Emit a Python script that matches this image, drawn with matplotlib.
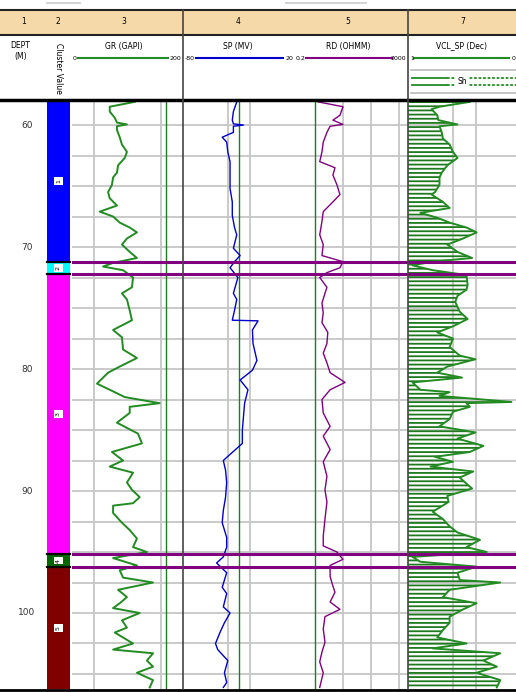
import matplotlib
matplotlib.use("Agg")
import matplotlib.pyplot as plt
import numpy as np
from matplotlib.patches import Rectangle

W, H = 516, 692
TOP, BASE = 58.03, 106.23

# readings off the log (depth in m)
gr_depth = [58.1, 58.5, 58.9, 59.4, 59.8, 59.95, 60.1, 60.4, 61.0, 61.6,
            62.2, 62.7, 63.3, 63.9, 64.3, 64.9, 65.5, 66.0, 66.6, 67.1,
            67.5, 68.0, 68.4, 68.8, 69.3, 69.8, 70.4, 70.9, 71.3, 71.6,
            71.9, 72.5, 73.3, 73.8, 74.3, 75.2, 76.0, 76.8, 77.4, 78.4,
            79.1, 79.8, 80.3, 81.2, 81.7, 82.3, 82.8, 83.1, 83.6, 84.4,
            85.3, 86.1, 86.8, 87.5, 88.0, 88.5, 89.3, 89.9, 90.5, 91.0,
            91.2, 91.8, 92.6, 93.2, 93.9, 94.6, 95.0, 95.5, 96.1, 96.5,
            97.1, 97.5, 98.1, 98.7, 99.2, 99.6, 100.0, 100.6, 101.2, 101.6,
            102.5, 103.0, 103.3, 103.9, 104.4, 104.9, 105.5, 106.1]
gr = [113, 68, 68, 77, 81, 99, 81, 81, 86, 90,
      99, 95, 83, 81, 74, 72, 65, 68, 81, 50,
      74, 86, 104, 117, 99, 90, 104, 117, 74, 56,
      92, 110, 108, 90, 99, 104, 108, 74, 90, 92,
      117, 86, 65, 45, 68, 95, 158, 104, 104, 81,
      119, 126, 72, 92, 68, 110, 99, 108, 122, 110,
      74, 74, 90, 104, 117, 110, 135, 74, 117, 86,
      92, 146, 83, 99, 86, 74, 122, 90, 99, 77,
      110, 74, 146, 135, 146, 117, 146, 140]

sp_depth = [58.1, 58.9, 59.6, 59.9, 60.0, 60.1, 60.6, 61.0, 61.4, 62.2,
            63.0, 64.1, 65.2, 66.3, 67.4, 68.4, 69.0, 70.1, 70.7, 71.2,
            71.7, 72.5, 73.8, 74.3, 75.2, 76.0, 76.05, 76.8, 77.9, 79.3,
            80.1, 80.9, 81.7, 82.8, 83.9, 85.0, 86.1, 87.0, 87.5, 88.3,
            89.3, 90.5, 91.6, 92.6, 93.8, 94.6, 95.4, 95.9, 96.7, 97.9,
            98.4, 99.5, 100.0, 100.8, 101.6, 102.5, 103.0, 103.9, 104.9, 105.7,
            106.1]
sp = [-32, -35, -36, -35, -26, -35, -35, -45, -41, -40,
      -38, -38, -38, -36, -36, -34, -32, -35, -29, -34,
      -38, -31, -35, -32, -34, -36, -13, -18, -17.5, -14,
      -18, -29, -22, -25, -26, -27, -27, -38, -44, -42,
      -41, -42, -44, -45, -41, -41, -44, -50, -41, -45,
      -41, -44, -38, -43, -47, -51, -49, -40, -43, -41,
      -44]

rd_depth = [58.1, 58.5, 59.2, 59.6, 59.95, 60.1, 60.6, 61.4, 62.2, 63.0,
            63.5, 64.1, 64.9, 65.7, 66.3, 67.1, 67.9, 69.0, 69.8, 70.7,
            71.2, 71.7, 72.1, 72.5, 73.3, 73.8, 74.6, 75.4, 76.2, 77.0,
            77.9, 78.7, 79.5, 80.3, 81.1, 81.7, 82.5, 83.6, 84.7, 85.5,
            86.6, 87.6, 88.8, 89.9, 90.9, 92.3, 93.7, 94.5, 95.0, 95.6,
            96.1, 97.0, 97.8, 98.3, 99.1, 99.7, 100.3, 101.3, 102.4, 103.2,
            104.0, 104.9, 106.1]
rd = [1.3, 10.0, 7.8, 4.4, 10.0, 3.5, 2.7, 2.0, 1.8, 1.5,
      5.2, 4.4, 6.1, 7.8, 4.4, 2.0, 1.8, 1.5, 2.0, 1.8,
      10.0, 7.8, 2.7, 1.5, 2.7, 2.3, 1.8, 2.0, 1.8, 2.9,
      2.7, 2.0, 2.7, 3.5, 11.8, 3.5, 1.8, 2.0, 3.5, 2.0,
      3.5, 2.0, 2.7, 2.3, 2.7, 2.3, 2.0, 2.0, 6.1, 10.0,
      3.5, 3.5, 4.4, 5.2, 3.5, 7.8, 2.3, 2.0, 2.3, 1.8,
      1.5, 2.0, 1.5]

vcl_depth = [58.1, 58.5, 58.7, 59.2, 59.6, 59.95, 60.1, 60.6, 61.1, 61.6,
             62.2, 62.7, 63.3, 63.9, 64.3, 64.9, 65.5, 65.7, 66.3, 66.8,
             67.2, 67.6, 68.0, 68.4, 68.8, 69.3, 69.8, 70.4, 70.9, 71.2,
             71.5, 71.9, 72.3, 73.1, 73.5, 74.0, 74.5, 75.3, 75.9, 76.5,
             77.0, 77.5, 78.2, 78.9, 79.2, 79.8, 80.3, 80.7, 81.1, 81.7,
             81.9, 82.2, 82.7, 82.8, 83.1, 83.5, 84.1, 84.7, 85.2, 85.7,
             86.3, 86.8, 87.2, 87.6, 88.0, 88.4, 88.9, 89.4, 89.8, 90.4,
             90.9, 91.7, 92.3, 92.9, 93.4, 94.0, 94.6, 95.0, 95.4, 95.8,
             96.2, 96.7, 97.3, 97.5, 98.1, 98.7, 99.2, 99.7, 100.3, 100.8,
             101.4, 102.0, 102.5, 102.9, 103.3, 103.9, 104.4, 104.9, 105.5, 106.1]
vcl = [0.45, 0.72, 0.79, 0.74, 0.73, 0.56, 0.72, 0.70, 0.69, 0.63,
       0.60, 0.56, 0.65, 0.70, 0.72, 0.72, 0.76, 0.79, 0.69, 0.63,
       0.89, 0.74, 0.63, 0.48, 0.39, 0.51, 0.65, 0.56, 0.43, 0.78,
       0.96, 0.78, 0.48, 0.47, 0.48, 0.56, 0.58, 0.54, 0.47, 0.60,
       0.74, 0.60, 0.63, 0.54, 0.40, 0.65, 0.74, 0.52, 0.96, 0.89,
       0.63, 0.72, 0.08, 0.48, 0.45, 0.60, 0.63, 0.72, 0.40, 0.56,
       0.33, 0.45, 0.76, 0.60, 0.80, 0.42, 0.54, 0.48, 0.43, 0.65,
       0.64, 0.78, 0.69, 0.63, 0.56, 0.36, 0.48, 0.30, 0.96, 0.89,
       0.39, 0.56, 0.54, 0.18, 0.63, 0.69, 0.39, 0.51, 0.63, 0.63,
       0.69, 0.74, 0.48, 0.78, 0.18, 0.33, 0.21, 0.39, 0.18, 0.21]

zone_top = [58.0, 71.2, 72.2, 95.2, 96.2]
zone_base = [71.2, 72.2, 95.2, 96.2, 106.3]
zone_name = ["1", "2", "3", "4", "5"]
zone_color = ["#0000ff", "#00ffff", "#ff00ff", "#006400", "#800000"]

depth_ticks = [60, 70, 80, 90, 100]
track_no = ["1", "2", "3", "4", "5", "7"]

GREEN = "#228b22"
LINE_GREEN = "#1e7d1e"
PURPLE = "#800080"
GRID = "#c6c6c6"

plt.rcParams['font.family'] = ['Liberation Sans Narrow', 'DejaVu Sans']
plt.rcParams['hatch.color'] = "#1f7a1f"
plt.rcParams['hatch.linewidth'] = 1.3

fig = plt.figure(figsize=(W / 100, H / 100), dpi=100)


def track(x0, x1):
    ax = fig.add_axes([x0 / W, 1 - 689 / H, (x1 - x0) / W, 588 / H])
    ax.set_ylim(BASE, TOP)
    for s in ax.spines.values():
        s.set_visible(False)
    ax.tick_params(which='both', left=False, bottom=False,
                   labelleft=False, labelbottom=False)
    return ax


def grid(ax, xt):
    ax.set_xticks(xt)
    ax.set_yticks(np.arange(60, 106, 2.5))
    ax.grid(True, which='major', color=GRID, lw=1.3)
    ax.set_axisbelow(True)


# depth column
ax_d = track(0, 45)
ax_d.set_xlim(0, 1)
for d in depth_ticks:
    ax_d.text(0.6, d, str(d), ha='center', va='center', fontsize=6.5, color='#333333')

# cluster column
ax_z = track(45, 72)
ax_z.set_xlim(0, 1)
for t, b, c, n in zip(zone_top, zone_base, zone_color, zone_name):
    ax_z.axhspan(t, b, xmin=0.074, xmax=0.926, color=c, lw=0)
    ax_z.text(0.5, (t + b) / 2, n, rotation=90, ha='center', va='center',
              fontsize=4.5, bbox=dict(boxstyle='square,pad=0.3', fc='white', ec='none'))
for t in zone_top[1:]:
    ax_z.axhline(t, 0.074, 0.926, color='black', lw=1.6)

# GR
ax_gr = track(72, 183)
ax_gr.set_xlim(0, 200)
grid(ax_gr, [40, 160])
ax_gr.axvline(170, color=LINE_GREEN, lw=1)
ax_gr.plot(gr, gr_depth, color=GREEN, lw=1.4)

# SP
ax_sp = track(183, 295)
ax_sp.set_xlim(-80, 20)
grid(ax_sp, [-40, -20])
ax_sp.axvline(-30, color=LINE_GREEN, lw=1)
ax_sp.plot(sp, sp_depth, color='#0000cc', lw=1.0)

# RD
ax_rd = track(295, 408)
ax_rd.set_xscale('log')
ax_rd.set_xlim(0.2, 2000)
grid(ax_rd, [10, 100, 1000])
ax_rd.axvline(1, color=LINE_GREEN, lw=1)
ax_rd.plot(rd, rd_depth, color=PURPLE, lw=1.0)

# VCL
ax_v = track(408, 520.5)
ax_v.set_xlim(1, 0)
grid(ax_v, [0.6, 0.4])
ax_v.fill_betweenx(vcl_depth, vcl, 1, facecolor='none', edgecolor="#1f7a1f",
                   hatch='----', lw=0)
ax_v.plot(vcl, vcl_depth, color=GREEN, lw=1.4)

for ax in [ax_gr, ax_sp, ax_rd, ax_v]:
    for t in zone_top[1:]:
        ax.axhline(t, color=PURPLE, lw=2.2, zorder=5)

# header and frame, in pixel coordinates
ov = fig.add_axes([0, 0, 1, 1], zorder=10)
ov.set_xlim(0, W)
ov.set_ylim(H, 0)
ov.axis('off')

ov.plot([47, 80], [3, 3], color='#d4d4d4', lw=1.5)
ov.plot([286, 366], [3, 3], color='#d4d4d4', lw=1.5)
ov.add_patch(Rectangle((0, 10), W, 25, fc='#f5d9a8', ec='none'))
ov.plot([0, W], [10, 10], color='#222222', lw=1.5)
ov.plot([0, W], [35, 35], color='#222222', lw=1.5)
ov.plot([0, W], [100, 100], color='black', lw=2.5)
ov.plot([0, W], [689.5, 689.5], color='black', lw=2)
for x in [183, 408]:
    ov.plot([x, x], [10, 689], color='#444444', lw=1.2)

for x, n in zip([24, 58, 124, 238, 348, 463], track_no):
    ov.text(x, 22, n, ha='center', va='center', fontsize=5.5)

ov.text(20, 45, "DEPT", ha='center', va='center', fontsize=5.5)
ov.text(21, 57, "(M)", ha='center', va='center', fontsize=5.5)
ov.text(58, 68, "Cluster Value", rotation=270, ha='center', va='center', fontsize=5.5)

ov.text(124, 46, "GR (GAPI)", ha='center', va='center', fontsize=5.5)
ov.plot([78, 168], [58, 58], color=GREEN, lw=1.5)
ov.text(73, 58, "0", ha='left', va='center', fontsize=4.5)
ov.text(181, 58, "200", ha='right', va='center', fontsize=4.5)

ov.text(238, 46, "SP (MV)", ha='center', va='center', fontsize=5.5)
ov.plot([196, 283], [58, 58], color='#0000cc', lw=1.5)
ov.text(185, 58, "-80", ha='left', va='center', fontsize=4.5)
ov.text(293, 58, "20", ha='right', va='center', fontsize=4.5)

ov.text(348, 46, "RD (OHMM)", ha='center', va='center', fontsize=5.5)
ov.plot([306, 392], [58, 58], color=PURPLE, lw=1.5)
ov.text(296, 58, "0.2", ha='left', va='center', fontsize=4.5)
ov.text(406, 58, "2000", ha='right', va='center', fontsize=4.5)

ov.text(462, 46, "VCL_SP (Dec)", ha='center', va='center', fontsize=5.5)
ov.plot([414, 509], [58, 58], color=GREEN, lw=1.5)
ov.text(410, 58, "1", ha='left', va='center', fontsize=4.5)
ov.text(515, 58, "0", ha='right', va='center', fontsize=4.5)

ov.plot([411, W], [70, 70], color='#bbbbbb', lw=1.2)
ov.plot([411, W], [93, 93], color='#bbbbbb', lw=1.2)
for y in [78, 85]:
    ov.plot([412, 447], [y, y], color=GREEN, lw=1.3)
    ov.plot([447, W], [y, y], color=GREEN, lw=1.3, ls=(0, (1.5, 1)))
ov.text(462, 82, "Sh", ha='center', va='center', fontsize=5.5,
        bbox=dict(boxstyle='square,pad=0.15', fc='white', ec='none'))

fig.savefig("out.png", dpi=100)
